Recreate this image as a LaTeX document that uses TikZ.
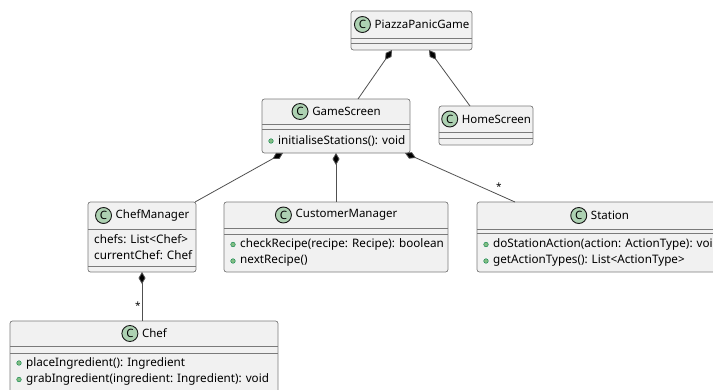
\documentclass[tikz,border=0pt]{standalone}
\usepackage{fontspec}
\setmainfont{Noto Sans}
\usetikzlibrary{calc,arrows.meta}
\definecolor{boxfill}{HTML}{F1F1F1}
\definecolor{boxline}{HTML}{7A7A7A}
\definecolor{iconfill}{HTML}{ADD1B2}
\definecolor{iconline}{HTML}{181818}
\definecolor{pubfill}{HTML}{84BE84}
\definecolor{publine}{HTML}{038048}
\definecolor{linkcol}{HTML}{505050}
\tikzset{
  classbox/.style={draw=boxline, line width=0.7pt, fill=boxfill, rounded corners=2.5pt,
    anchor=north west, inner sep=0pt, outer sep=0pt},
  divider/.style={draw=boxline, line width=0.7pt},
  icon/.style={circle, draw=iconline, line width=0.9pt, fill=iconfill, minimum size=16pt,
    inner sep=0pt, font=\fontsize{11.5}{11.5}\selectfont\bfseries},
  cname/.style={inner sep=0pt, font=\fontsize{11.5}{13}\selectfont},
  member/.style={anchor=west, inner sep=0pt, font=\fontsize{11.7}{13}\selectfont},
  pub/.style={circle, draw=publine, fill=pubfill, minimum size=4.6pt, inner sep=0pt, line width=0.4pt},
  link/.style={draw=linkcol, line width=0.8pt},
  comp/.style={link, {Diamond[length=12pt,width=7pt,fill=black]}-},
  mult/.style={inner sep=0pt, font=\fontsize{10}{10}\selectfont}
}
% box: name, x, y, width, height, header height, second divider offset
\newcommand{\umlbox}[7]{%
  \node[classbox, minimum width=#4pt, minimum height=#5pt] (#1) at (#2,#3) {};
  \draw[divider] ($(#1.north west)+(0,#6)$) -- ($(#1.north east)+(0,#6)$);
  \draw[divider] ($(#1.north west)+(0,#7)$) -- ($(#1.north east)+(0,#7)$);
}
% title: box name, class text, header height
\newcommand{\umltitle}[3]{%
  \node[cname] (#1N) at ($(#1.north)+(10.5,#3/2)$) {#2};
  \node[icon] (#1I) at ($(#1N.west)+(-12,0)$) {C};
}
\begin{document}
\begin{tikzpicture}[x=1pt, y=-1pt]
\useasboundingbox (0,0) rectangle (713,389);
\clip (0,0) rectangle (713,389);

% classes
\umlbox{ppg}{351}{11}{121}{39}{27}{32}
\umltitle{ppg}{PiazzaPanicGame}{27}

\umlbox{hs}{439}{106}{94}{39}{26}{32}
\umltitle{hs}{HomeScreen}{26}

\umlbox{gs}{262}{99}{148}{54}{25}{30}
\umltitle{gs}{GameScreen}{25}
\node[pub] (gsD1) at ($(gs.north west)+(9,42)$) {};
\node[member] (gsM1) at ($(gs.north west)+(16,42)$) {initialiseStations(): void};

\umlbox{chm}{88}{202}{108}{70}{27}{64}
\umltitle{chm}{ChefManager}{27}
\node[member] (chmA1) at ($(chm.north west)+(6,37.5)$) {chefs: List<Chef>};
\node[member] (chmA2) at ($(chm.north west)+(6,53)$) {currentChef: Chef};

\umlbox{cust}{224}{202}{224}{70}{26}{32}
\umltitle{cust}{CustomerManager}{26}
\node[pub] (custD1) at ($(cust.north west)+(9,42.5)$) {};
\node[member] (custM1) at ($(cust.north west)+(16,42.5)$) {checkRecipe(recipe: Recipe): boolean};
\node[pub] (custD2) at ($(cust.north west)+(9,59)$) {};
\node[member] (custM2) at ($(cust.north west)+(16,59)$) {nextRecipe()};

\umlbox{st}{477}{202}{245}{70}{27}{31}
\umltitle{st}{Station}{27}
\node[pub] (stD1) at ($(st.north west)+(9,42.5)$) {};
\node[member] (stM1) at ($(st.north west)+(16,42.5)$) {doStationAction(action: ActionType): void};
\node[pub] (stD2) at ($(st.north west)+(9,59)$) {};
\node[member] (stM2) at ($(st.north west)+(16,59)$) {getActionTypes(): List<ActionType>};

\umlbox{chef}{10}{321}{268}{75}{25}{32}
\umltitle{chef}{Chef}{25}
\node[pub] (chefD1) at ($(chef.north west)+(9,42)$) {};
\node[member] (chefM1) at ($(chef.north west)+(16,42)$) {placeIngredient(): Ingredient};
\node[pub] (chefD2) at ($(chef.north west)+(9,58.5)$) {};
\node[member] (chefM2) at ($(chef.north west)+(16,58.5)$) {grabIngredient(ingredient: Ingredient): void};

% composition links
\draw[comp] ($(ppg.south west)+(41,0)$) -- ($(gs.north west)+(96,0)$);
\draw[comp] ($(ppg.south west)+(78,0)$) -- ($(hs.north west)+(31,0)$);
\draw[comp] ($(gs.south west)+(21,0)$) -- ($(chm.north east)+(-1,0)$);
\draw[comp] ($(gs.south west)+(74,0)$) -- ($(cust.north west)+(112,0)$);
\draw[comp] ($(gs.south east)+(-5,0)$) -- ($(st.north west)+(38,0)$);
\draw[comp] ($(chm.south west)+(54,0)$) -- ($(chef.north west)+(132,0)$);

% multiplicities
\node[mult] (mSt) at (499,187) {*};
\node[mult] (mChef) at (138,306) {*};
\end{tikzpicture}
\end{document}
